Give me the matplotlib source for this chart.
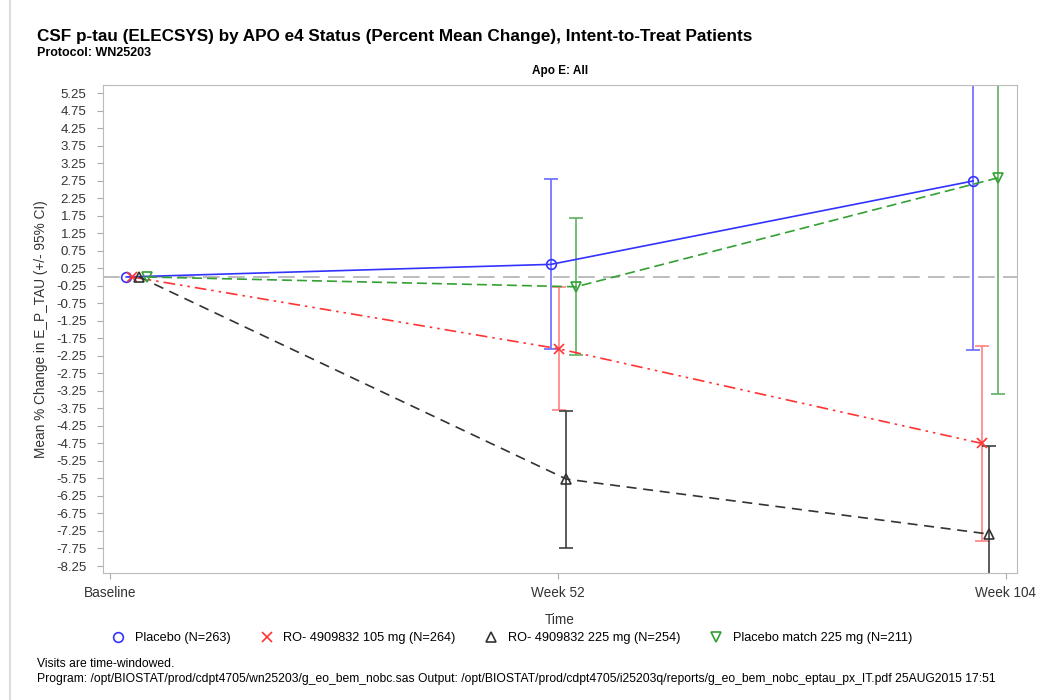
import numpy as np
import matplotlib
matplotlib.use('Agg')
from matplotlib import pyplot as plt
from matplotlib.lines import Line2D

plt.rcParams['font.family'] = ['Liberation Sans', 'DejaVu Sans']

# 数据 (周, 均值, 95% CI 下/上)
groups = ['Placebo (N=263)', 'RO- 4909832 105 mg (N=264)',
          'RO- 4909832 225 mg (N=254)', 'Placebo match 225 mg (N=211)']
weeks = [[1.9, 51.2, 100.2],
         [2.6, 52.1, 101.2],
         [3.4, 53.0, 102.1],
         [4.3, 54.1, 103.1]]
means = [[0.0, 0.36, 2.74],
         [0.0, -2.05, -4.75],
         [0.0, -5.77, -7.34],
         [0.0, -0.28, 2.83]]
lower = [[0.0, -2.06, -2.08],
         [0.0, -3.80, -7.55],
         [0.0, -7.73, -9.86],
         [0.0, -2.23, -3.34]]
upper = [[0.0, 2.79, 7.56],
         [0.0, -0.28, -1.97],
         [0.0, -3.82, -4.82],
         [0.0, 1.69, 9.00]]
xticks = [0, 52, 104]
xticklabels = ['Baseline', 'Week 52', 'Week 104']
yticks = np.arange(-8.25, 5.26, 0.5)

colors = ['#3333ff', '#ff3333', '#333333', '#33a033']
ebcolors = ['#6a6aff', '#ff8080', '#404040', '#60b060']
markers = ['o', 'x', '^', 'v']
styles = ['-', (0, (7, 3, 1.5, 3, 1.5, 3)), (0, (6, 4)), (0, (6, 3))]

fig = plt.figure(figsize=(10.45, 7), dpi=100)
ax = fig.add_axes([0.0986, 0.1814, 0.8746, 0.6972])

ax.axhline(0, color='#b0b0b0', lw=1.2, ls=(0, (10, 5)), zorder=1)

for i in range(4):
    m = np.array(means[i])
    err = [m - np.array(lower[i]), np.array(upper[i]) - m]
    ax.errorbar(weeks[i][1:], m[1:], yerr=[err[0][1:], err[1][1:]], fmt='none',
                ecolor=ebcolors[i], elinewidth=1.2, capsize=5, capthick=1.2, zorder=2)
    ax.plot(weeks[i], means[i], color=colors[i], ls=styles[i], lw=1.2,
            marker=markers[i], markersize=7, markerfacecolor='none',
            markeredgecolor=colors[i], markeredgewidth=1.2, zorder=3)

ax.set_xlim(-0.8, 105.3)
ax.set_ylim(-8.45, 5.48)
ax.set_xticks(xticks)
ax.set_xticklabels(xticklabels, fontsize=9.8, color='#333333')
ax.set_yticks(yticks)
ax.set_yticklabels(['%.2f' % v for v in yticks], fontsize=9.5, color='#333333')
ax.tick_params(color='#aaaaaa', length=4)
ax.tick_params(axis='y', pad=8)
ax.tick_params(axis='x', pad=5)
for s in ax.spines.values():
    s.set_color('#bbbbbb')
ax.set_xlabel('Time', fontsize=9.8, color='#333333', labelpad=10)
ax.set_ylabel('Mean % Change in E_P_TAU (+/- 95% CI)', fontsize=9.8, color='#333333', labelpad=6)
ax.set_title('Apo E: All', fontsize=8.5, fontweight='bold', pad=8)

fig.text(0.035, 0.948, 'CSF p-tau (ELECSYS) by APO e4 Status (Percent Mean Change), Intent-to-Treat Patients',
         fontsize=12.3, fontweight='bold', va='center')
fig.text(0.035, 0.924, 'Protocol: WN25203', fontsize=9, fontweight='bold', va='center')

handles = [Line2D([], [], ls='none', marker=markers[i], markersize=7,
                  markerfacecolor='none', markeredgecolor=colors[i], markeredgewidth=1.2)
           for i in range(4)]
fig.legend(handles, groups, loc='center', bbox_to_anchor=(0.487, 0.088), ncol=4,
           frameon=False, fontsize=9.2, handletextpad=0.3, columnspacing=1.8)

fig.text(0.035, 0.051, 'Visits are time-windowed.', fontsize=8.7, va='center')
fig.text(0.035, 0.030, 'Program: /opt/BIOSTAT/prod/cdpt4705/wn25203/g_eo_bem_nobc.sas Output: '
         '/opt/BIOSTAT/prod/cdpt4705/i25203q/reports/g_eo_bem_nobc_eptau_px_IT.pdf 25AUG2015 17:51',
         fontsize=8.7, va='center')
fig.add_artist(Line2D([0.01, 0.01], [0.0, 1.0], color='#dddddd', lw=1.5))

fig.savefig('out.png', dpi=100)
